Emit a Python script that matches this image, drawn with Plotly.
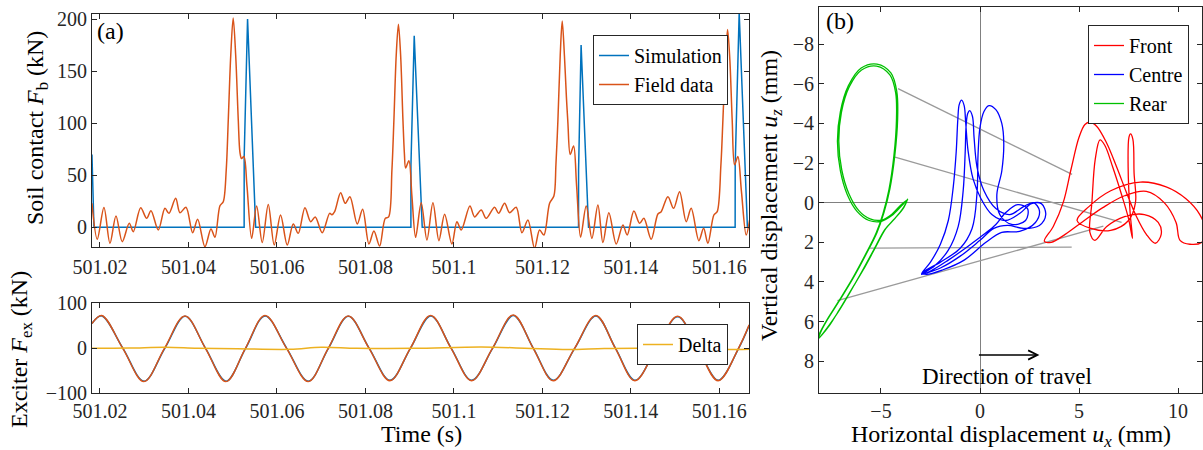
import plotly.graph_objects as go

# ---------------- DATA ----------------
# (a) top: soil contact force (kN)
field_t = [501.01819, 501.01939, 501.02090, 501.02226, 501.02362, 501.02504, 501.02662, 501.02753,
           501.02920, 501.03055, 501.03153, 501.03318, 501.03469, 501.03559, 501.03711, 501.03808,
           501.03944, 501.04095, 501.04208, 501.04373, 501.04509, 501.04599, 501.04712, 501.04787,
           501.04854, 501.04900, 501.04956, 501.05011, 501.05068, 501.05126, 501.05164, 501.05200,
           501.05254, 501.05322, 501.05428, 501.05541, 501.05668, 501.05804, 501.05939, 501.06082,
           501.06233, 501.06369, 501.06482, 501.06633, 501.06762, 501.06866, 501.07024, 501.07191,
           501.07243, 501.07304, 501.07440, 501.07544, 501.07650, 501.07815, 501.07937, 501.08079,
           501.08192, 501.08321, 501.08448, 501.08525, 501.08599, 501.08644, 501.08696, 501.08746,
           501.08796, 501.08848, 501.08882, 501.08909, 501.08983, 501.09051, 501.09135, 501.09261,
           501.09390, 501.09526, 501.09661, 501.09790, 501.09955, 501.10068, 501.10165, 501.10362,
           501.10468, 501.10617, 501.10730, 501.10920, 501.11011, 501.11146, 501.11259, 501.11408,
           501.11537, 501.11673, 501.11823, 501.11937, 501.12034, 501.12163, 501.12260, 501.12306,
           501.12351, 501.12403, 501.12448, 501.12498, 501.12543, 501.12577, 501.12629, 501.12706,
           501.12773, 501.12864, 501.12990, 501.13119, 501.13255, 501.13368, 501.13503, 501.13669,
           501.13820, 501.13917, 501.14068, 501.14197, 501.14294, 501.14459, 501.14611, 501.14685,
           501.14837, 501.14966, 501.15101, 501.15250, 501.15363, 501.15537, 501.15644, 501.15741,
           501.15876, 501.15951, 501.16035, 501.16080, 501.16136, 501.16186, 501.16238, 501.16290,
           501.16344, 501.16419, 501.16498, 501.16606, 501.16683]
field_fb = [23, -11.5, 19, -15.4, 10.8, -13.8, 3.8, -4.2,
            18.8, 8.6, 16, -2.6, 18.2, 13.4, 27.8, 14,
            19.2, -5.2, 7.7, -18.6, -1.6, -9.6, 20.7, 24.6,
            55, 103, 165, 201, 165, 103, 72, 66,
            68, 40, -10.6, 20.4, -14.7, 22, -17, 11.8,
            -17, 3.2, -5.8, 18.8, 5.4, 10, -5.2, 13.4,
            12, 15, 33.2, 23, 29.4, 3.2, 17.3, -16,
            -3.6, -18, 8.6, 10, 55, 103, 165, 195,
            165, 103, 70, 57, 64, 30, -9.6, 23.6,
            -12.2, 23.6, -12.8, 12.5, -16, 5.4, -2.6, 20.4,
            10, 16.6, 8.6, 19.2, 13.4, 23, 14, 19.2,
            -5.2, 7, -20, -2.6, -7.4, 23, 30, 60,
            103, 165, 198, 165, 125, 100, 70, 78,
            40, -9.6, 20.4, -10.6, 21.4, -14.7, 14, -16,
            2.2, -7.4, 15.6, 3.8, 8.6, -11.5, 12.8, 15,
            29.4, 18.2, 34.2, 5.4, 18.2, -12.8, -1, -15.4,
            11.8, 15, 60, 103, 160, 190, 160, 103,
            60, 68, 35, -7.4, 7]

sim_t = [501.01819, 501.01864, 501.05259, 501.05260, 501.05336, 501.05519,
         501.09028, 501.09029, 501.09103, 501.09284,
         501.12817, 501.12818, 501.12875, 501.13043,
         501.16357, 501.16358, 501.16448, 501.16634, 501.16700]
sim_fb = [70, 0, 0, 68, 200, 0,
          0, 60, 184, 0,
          0, 55, 175, 0,
          0, 60, 206, 0, 0]

# (a) bottom: exciter force (kN)
ex_field_t = [501.01819, 501.02038, 501.02516, 501.02994, 501.03458, 501.03921, 501.04384, 501.04848,
              501.05288, 501.05729, 501.06218, 501.06708, 501.07160, 501.07612, 501.08083, 501.08554,
              501.09014, 501.09474, 501.09937, 501.10400, 501.10871, 501.11341, 501.11793, 501.12245,
              501.12727, 501.13210, 501.13650, 501.14091, 501.14574, 501.15056, 501.15515, 501.15973,
              501.16432, 501.16674]
ex_field_f = [55, 73, 0, -74, 0, 72, 0, -74,
              0, 73, 0, -74, 0, 72, 0, -72,
              0, 73, 0, -72, 0, 74, 0, -72,
              0, 73, 0, -72, 0, 71, 0, -72,
              0, 52]
ex_sim_t = [501.01819, 501.02040, 501.02520, 501.02996, 501.03466, 501.03924, 501.04388, 501.04850,
            501.05292, 501.05731, 501.06222, 501.06710, 501.07164, 501.07614, 501.08087, 501.08556,
            501.09018, 501.09476, 501.09941, 501.10402, 501.10875, 501.11343, 501.11797, 501.12247,
            501.12731, 501.13212, 501.13654, 501.14093, 501.14578, 501.15058, 501.15519, 501.15975,
            501.16436, 501.16674]
ex_sim_f = [55, 72, 0, -73, 0, 71, 0, -73,
            0, 72, 0, -73, 0, 71, 0, -71,
            0, 72, 0, -71, 0, 73, 0, -71,
            0, 72, 0, -71, 0, 70, 0, -71,
            0, 51]
delta_t = [501.01819, 501.0266, 501.0348, 501.0420, 501.0510, 501.0630, 501.0700, 501.0780,
           501.0910, 501.1062, 501.1160, 501.1257, 501.1340, 501.1430, 501.1540, 501.1610, 501.16683]
delta_f = [0, 0.5, 2.5, 0.3, -0.8, -2.2, 2.5, 0.2,
           0, 2.8, 0.3, -2.6, -0.3, 0.2, -0.8, -2.8, -2]

time_ticks = [501.02, 501.04, 501.06, 501.08, 501.10, 501.12, 501.14, 501.16]
time_labels = ["501.02", "501.04", "501.06", "501.08", "501.1", "501.12", "501.14", "501.16"]
fb_ticks = [0, 50, 100, 150, 200]
fex_ticks = [-100, 0, 100]
fex_labels = ["\u2212100", "0", "100"]

# (b) displacement trajectories (mm)
rear_ux = [-3.65, -3.85, -4.3, -4.75, -5.3, -5.9, -6.5, -7.1, -7.6, -8.0, -8.15, -8.05, -7.7, -7.1,
           -6.4, -5.75, -5.2, -4.85, -4.55, -4.3, -4.16, -4.2, -4.5, -5.2, -6.0, -6.65, -7.05, -7.2,
           -7.05, -6.7, -6.2, -5.6, -5.0, -4.45, -3.95,
           -3.7, -3.9, -4.35, -4.8, -5.35, -5.95, -6.55, -7.15, -7.7, -8.05, -8.2, -8.1, -7.75, -7.15,
           -6.45, -5.8, -5.25, -4.9, -4.6, -4.35, -4.22, -4.26, -4.55, -5.22, -5.98, -6.6, -7.0, -7.13,
           -6.98, -6.62, -6.12, -5.55, -4.98, -4.45, -3.98, -3.7]
rear_uz = [-0.2, 0.25, 0.8, 1.3, 2.3, 3.4, 4.4, 5.4, 6.2, 6.7, 6.85, 6.55, 5.9, 4.95,
           3.8, 2.6, 1.5, 0.5, -0.7, -2.4, -4.2, -5.6, -6.55, -7.0, -6.8, -5.9, -4.6, -3.1,
           -1.6, -0.4, 0.45, 0.9, 0.95, 0.65, 0.15,
           -0.1, 0.3, 0.85, 1.35, 2.35, 3.45, 4.5, 5.5, 6.3, 6.75, 6.9, 6.6, 5.95, 5.0,
           3.85, 2.65, 1.55, 0.55, -0.65, -2.35, -4.15, -5.55, -6.45, -6.9, -6.7, -5.85, -4.55, -3.1,
           -1.65, -0.45, 0.4, 0.82, 0.88, 0.58, 0.1, -0.12]

centre_ux = [-2.95, -2.5, -2.0, -1.6, -1.35, -1.2, -1.12, -1.05, -0.93, -0.8, -0.72, -0.6, -0.35, 0.05,
             0.6, 1.3, 2.0, 2.6, 3.1, 3.32, 3.0, 2.2, 1.4, 0.7, 0.0, -1.0, -2.0, -2.7,
             -2.95, -2.3, -1.6, -1.1, -0.85, -0.75, -0.7, -0.62, -0.52, -0.38, -0.3, -0.15, 0.2, 0.8,
             1.5, 2.2, 2.7, 3.0, 2.8, 2.0, 1.1, 0.3, -0.8, -1.9, -2.7,
             -2.9, -2.0, -1.0, -0.4, -0.15, -0.1, 0.0, 0.2, 0.45, 0.8, 1.1, 1.2, 1.1, 0.85,
             1.0, 1.6, 2.3, 2.4, 1.9, 1.3, 0.8, 0.2, -0.6, -1.6, -2.5, -2.95]
centre_uz = [3.6, 3.0, 2.1, 0.9, -0.8, -2.6, -4.2, -4.95, -5.18, -4.9, -4.0, -2.6, -1.2, -0.2,
             0.6, 0.9, 0.55, 0.05, 0.05, 0.6, 1.15, 1.3, 1.15, 1.3, 1.9, 2.7, 3.3, 3.55,
             3.62, 3.2, 2.4, 1.2, -0.6, -2.5, -3.9, -4.5, -4.65, -4.35, -3.3, -1.8, -0.6, 0.3,
             0.6, 0.2, 0.0, 0.4, 1.0, 1.45, 1.5, 2.0, 2.9, 3.4, 3.62,
             3.55, 3.0, 2.3, 1.3, -0.5, -2.4, -3.8, -4.6, -4.9, -4.7, -4.0, -3.0, -1.6, -0.4,
             0.6, 1.1, 0.9, 0.3, 0.1, 0.5, 1.1, 1.6, 2.2, 2.9, 3.45, 3.6]

front_ux = [3.25, 3.7, 4.2, 4.6, 5.0, 5.3, 5.56, 5.9, 6.4, 6.9, 7.4, 7.9, 8.4, 8.85,
            9.15, 9.0, 8.3, 7.3, 6.4, 5.8, 5.55,
            5.65, 5.82, 6.06, 6.3, 6.7, 7.15, 7.5, 7.7, 7.58, 7.48, 7.52, 7.6, 7.72, 7.78,
            7.85, 7.5, 6.6, 5.6, 4.9,
            5.5, 6.6, 8.1, 9.4, 10.4, 11.1, 11.4, 11.2, 10.6, 10.1,
            9.9, 9.3, 8.4, 7.3, 6.2, 5.2, 4.3, 3.6, 3.25]
front_uz = [1.95, 1.2, 0.0, -1.7, -3.3, -3.95, -4.06, -3.85, -3.0, -1.8, -0.5, 0.7, 1.6, 2.05,
            1.6, 1.0, 0.6, 0.7, 1.2, 1.9, 1.5,
            0.0, -2.2, -3.17, -2.9, -1.8, -0.4, 0.8, 1.8, 0.5, -1.8, -3.3, -3.47, -3.2, -1.5,
            0.0, 0.9, 1.4, 1.3, 0.9,
            0.2, -0.6, -1.04, -0.8, -0.2, 0.6, 1.5, 2.0, 2.1, 1.9,
            1.0, 0.0, -0.57, -0.35, 0.25, 0.95, 1.6, 2.0, 1.95]

link_rear_ux = [-4.14, -4.29, -5.56, -7.2]
link_rear_uz = [-5.76, -2.3, 2.29, 4.95]
link_front_ux = [4.65, 7.15, 4.63, 6.23]
link_front_uz = [-1.43, 1.0, 2.24, 1.19]

ux_ticks = [-5, 0, 5, 10]
ux_labels = ["\u22125", "0", "5", "10"]
uz_ticks = [-8, -6, -4, -2, 0, 2, 4, 6, 8]
uz_labels = ["\u22128", "\u22126", "\u22124", "\u22122", "0", "2", "4", "6", "8"]

# ---------------- STYLE ----------------
FONT = "Liberation Serif"
C_SIM = "#0072BD"
C_FIELD = "#D95319"
C_DELTA = "#EDB120"
AX = "#262626"

fig = go.Figure()

fig.add_trace(go.Scatter(x=sim_t, y=sim_fb, mode="lines", name="Simulation",
                         line=dict(color=C_SIM, width=1.5), xaxis="x", yaxis="y", legend="legend"))
fig.add_trace(go.Scatter(x=field_t, y=field_fb, mode="lines", name="Field data",
                         line=dict(color=C_FIELD, width=1.5, shape="spline", smoothing=0.9),
                         xaxis="x", yaxis="y", legend="legend"))

fig.add_trace(go.Scatter(x=ex_sim_t, y=ex_sim_f, mode="lines", name="Simulation", showlegend=False,
                         line=dict(color=C_SIM, width=1.5, shape="spline", smoothing=1.0),
                         xaxis="x2", yaxis="y2"))
fig.add_trace(go.Scatter(x=ex_field_t, y=ex_field_f, mode="lines", name="Field data", showlegend=False,
                         line=dict(color=C_FIELD, width=1.5, shape="spline", smoothing=1.0),
                         xaxis="x2", yaxis="y2"))
fig.add_trace(go.Scatter(x=delta_t, y=delta_f, mode="lines", name="Delta",
                         line=dict(color=C_DELTA, width=1.5, shape="spline", smoothing=1.0),
                         xaxis="x2", yaxis="y2", legend="legend2"))

for i in range(len(link_rear_ux)):
    fig.add_trace(go.Scatter(x=[link_rear_ux[i], link_front_ux[i]], y=[link_rear_uz[i], link_front_uz[i]],
                             mode="lines", showlegend=False, hoverinfo="skip",
                             line=dict(color="#9a9a9a", width=1.3), xaxis="x3", yaxis="y3"))

fig.add_trace(go.Scatter(x=front_ux, y=front_uz, mode="lines", name="Front",
                         line=dict(color="#FF0000", width=1.3, shape="spline", smoothing=1.0),
                         xaxis="x3", yaxis="y3", legend="legend3"))
fig.add_trace(go.Scatter(x=centre_ux, y=centre_uz, mode="lines", name="Centre",
                         line=dict(color="#0000FF", width=1.3, shape="spline", smoothing=1.0),
                         xaxis="x3", yaxis="y3", legend="legend3"))
fig.add_trace(go.Scatter(x=rear_ux, y=rear_uz, mode="lines", name="Rear",
                         line=dict(color="#00C000", width=1.3, shape="spline", smoothing=1.0),
                         xaxis="x3", yaxis="y3", legend="legend3"))

tickfont = dict(family=FONT, size=20, color=AX)
common = dict(showline=True, linecolor=AX, linewidth=1, mirror="ticks", ticks="inside",
              ticklen=5, tickcolor=AX, showgrid=False, zeroline=False, tickfont=tickfont,
              automargin=False)

XDOM = [92 / 1203, 749 / 1203]
legend_style = dict(bgcolor="white", bordercolor=AX, borderwidth=1,
                    font=dict(family=FONT, size=20, color="#000"),
                    xanchor="right", yanchor="top", itemwidth=30, tracegroupgap=0)

fig.update_layout(
    width=1203, height=450,
    margin=dict(l=0, r=0, t=0, b=0, autoexpand=False),
    paper_bgcolor="white", plot_bgcolor="white",
    font=dict(family=FONT, size=20, color="#000"),
    xaxis=dict(domain=XDOM, range=[501.0182, 501.1667], tickvals=time_ticks, ticktext=time_labels,
               anchor="y", ticklabelstandoff=2, **common),
    yaxis=dict(domain=[1 - 247.3 / 450, 1 - 14 / 450], range=[-19.2, 204.8], tickvals=fb_ticks,
               anchor="x", **common),
    xaxis2=dict(domain=XDOM, range=[501.0182, 501.1667], tickvals=time_ticks, ticktext=time_labels,
                anchor="y2", ticklabelstandoff=0, **common),
    xaxis3=dict(domain=[819 / 1203, 1202 / 1203], range=[-8.13, 11.21], tickvals=ux_ticks,
                ticktext=ux_labels, anchor="y3", ticklabelstandoff=0, **common),
    yaxis2=dict(domain=[1 - 393.3 / 450, 1 - 303.3 / 450], range=[-100, 100], tickvals=fex_ticks,
                ticktext=fex_labels, anchor="x2", **common),
    yaxis3=dict(domain=[1 - 393 / 450, 1 - 7 / 450], range=[9.61, -9.88], tickvals=uz_ticks,
                ticktext=uz_labels, anchor="x3", **common),
    legend=dict(x=728 / 1203, y=1 - 35 / 450, **legend_style),
    legend2=dict(x=728 / 1203, y=1 - 324 / 450, **legend_style),
    legend3=dict(x=1189 / 1203, y=1 - 25 / 450, **legend_style),
)
fig.update_layout(xaxis3_zeroline=True, xaxis3_zerolinecolor="#808080", xaxis3_zerolinewidth=1.3,
                  yaxis3_zeroline=True, yaxis3_zerolinecolor="#808080", yaxis3_zerolinewidth=1.3)

ann_font = dict(family=FONT, size=24, color="#000")
C = dict(xanchor="center", yanchor="middle", showarrow=False)
annotations = [
    dict(text="(a)", x=110.5 / 1203, y=1 - 31 / 450, xref="paper", yref="paper",
         font=dict(family=FONT, size=24, color="#000"), **C),
    dict(text="(b)", x=840 / 1203, y=1 - 21 / 450, xref="paper", yref="paper",
         font=dict(family=FONT, size=24, color="#000"), **C),
    dict(text="Soil contact <i>F</i><sub>b</sub> (kN)", x=37 / 1203, y=1 - 128 / 450, xref="paper",
         yref="paper", textangle=-90, font=ann_font, **C),
    dict(text="Exciter <i>F</i><sub>ex</sub> (kN)", x=21 / 1203, y=1 - 350 / 450, xref="paper",
         yref="paper", textangle=-90, font=ann_font, **C),
    dict(text="Time (s)", x=421 / 1203, y=1 - 434 / 450, xref="paper", yref="paper",
         font=ann_font, **C),
    dict(text="Vertical displacement <i>u<sub>z</sub></i> (mm)", x=771 / 1203, y=1 - 196 / 450,
         xref="paper", yref="paper", textangle=-90, font=ann_font, **C),
    dict(text="Horizontal displacement <i>u<sub>x</sub></i> (mm)", x=1011 / 1203, y=1 - 436 / 450,
         xref="paper", yref="paper", font=ann_font, **C),
    dict(text="Direction of travel", x=1.38, y=8.8, xref="x3", yref="y3",
         font=dict(family=FONT, size=23, color="#000"), **C),
    dict(text="", x=3.0, y=7.69, ax=-0.13, ay=7.69, xref="x3", yref="y3", axref="x3", ayref="y3",
         showarrow=True, arrowhead=5, arrowsize=1.3, arrowwidth=1.4, arrowcolor="#000"),
]
fig.update_layout(annotations=annotations)

fig.write_html("out.html", config={"displayModeBar": False},
               post_script="document.body.style.margin='0';document.body.style.padding='0';"
                           "document.body.style.overflow='hidden';")
